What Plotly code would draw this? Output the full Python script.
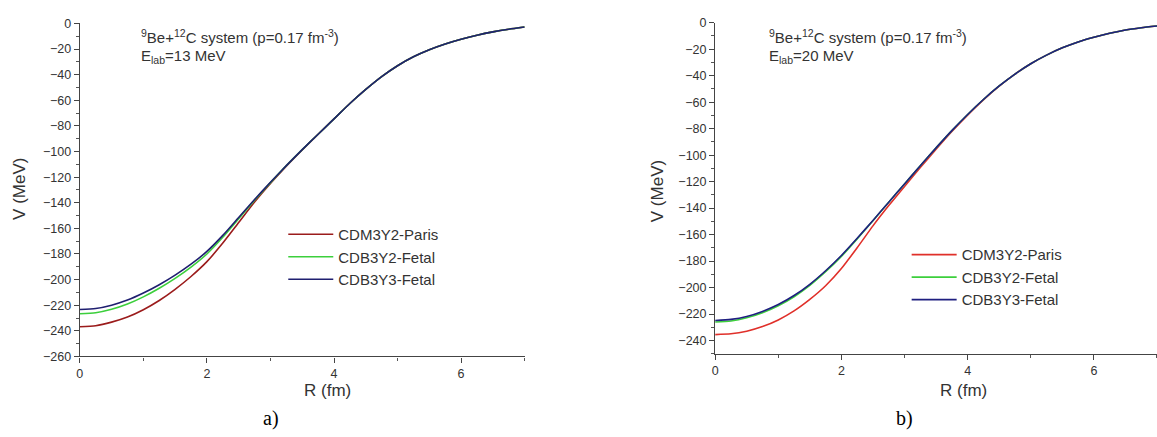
import plotly.graph_objects as go

W, H = 1157, 437

# ---- data ----
R = [0, 0.25, 0.5, 0.75, 1.0, 1.25, 1.5, 1.75, 2.0, 2.25, 2.5, 2.75, 3.0, 3.25, 3.5,
     3.75, 4.0, 4.25, 4.5, 4.75, 5.0, 5.25, 5.5, 5.75, 6.0, 6.25, 6.5, 6.75, 7.0]

# panel a) Elab = 13 MeV
paris_a = [-236.8, -236.0, -233.2, -229.2, -223.5, -216.3, -207.6, -197.6, -186.0, -171.5, -155.5, -139.5, -125.0, -111.5, -98.8,
           -86.5, -74.5, -62.5, -51.5, -41.5, -33.0, -26.0, -20.5, -16.0, -12.3, -9.2, -6.6, -4.5, -2.8]
b3y2_a = [-226.7, -225.9, -223.2, -219.1, -213.5, -206.8, -199.1, -190.3, -180.0, -167.0, -152.5, -138.1, -124.3, -111.0, -98.5,
          -86.5, -74.5, -62.5, -51.5, -41.5, -33.0, -26.0, -20.5, -16.0, -12.3, -9.2, -6.6, -4.5, -2.8]
b3y3_a = [-223.4, -222.6, -220.0, -216.0, -210.5, -204.0, -196.5, -188.0, -178.0, -165.5, -151.5, -137.5, -124.0, -111.0, -98.5,
          -86.5, -74.5, -62.5, -51.5, -41.5, -33.0, -26.0, -20.5, -16.0, -12.3, -9.2, -6.6, -4.5, -2.8]

# panel b) Elab = 20 MeV
paris_b = [-235.5, -234.9, -232.9, -229.4, -224.4, -217.6, -208.9, -198.6, -185.6, -169.9, -153.4, -138.1, -123.6, -109.4, -95.6,
           -82.2, -69.8, -58.3, -47.9, -38.8, -31.0, -24.5, -19.0, -14.5, -11.0, -8.0, -5.5, -3.8, -2.5]
b3y2_b = [-226.0, -225.2, -222.8, -219.0, -213.7, -206.9, -198.3, -188.0, -176.4, -163.2, -149.5, -135.5, -121.8, -108.0, -94.5,
          -81.5, -69.3, -58.0, -47.8, -38.8, -31.0, -24.5, -19.0, -14.5, -11.0, -8.0, -5.5, -3.8, -2.5]
b3y3_b = [-224.8, -224.0, -221.8, -218.0, -212.8, -206.0, -197.5, -187.3, -175.8, -162.8, -149.3, -135.5, -121.8, -108.0, -94.5,
          -81.5, -69.3, -58.0, -47.8, -38.8, -31.0, -24.5, -19.0, -14.5, -11.0, -8.0, -5.5, -3.8, -2.5]

names = ["CDM3Y2-Paris", "CDB3Y2-Fetal", "CDB3Y3-Fetal"]
x_ticks = [0, 2, 4, 6]
y_ticks_a = list(range(0, -261, -20))
y_ticks_b = list(range(0, -241, -20))

colors_a = ["#9b1c1c", "#3ccf3c", "#1f1f70"]
colors_b = ["#e0302a", "#3ccf3c", "#1f1f80"]

SANS = "Liberation Sans, Arial, sans-serif"

fig = go.Figure()
for ys, c, n in zip([paris_a, b3y2_a, b3y3_a], colors_a, names):
    fig.add_trace(go.Scatter(x=R, y=ys, mode="lines", name=n,
                             line=dict(color=c, width=1.6, shape="spline", smoothing=0.6),
                             xaxis="x", yaxis="y", legend="legend"))
for ys, c, n in zip([paris_b, b3y2_b, b3y3_b], colors_b, names):
    fig.add_trace(go.Scatter(x=R, y=ys, mode="lines", name=n,
                             line=dict(color=c, width=1.6, shape="spline", smoothing=0.6),
                             xaxis="x2", yaxis="y2", legend="legend2"))

def px_x(p):
    return p / W

def px_y(p):
    return 1 - p / H

axis_common = dict(
    showgrid=False, zeroline=False, showline=True, linecolor="#444", linewidth=1.3,
    ticks="outside", ticklen=5, tickwidth=1.2, tickcolor="#444",
    tickfont=dict(family=SANS, size=12.5, color="#333"),
    minor=dict(ticks="outside", ticklen=3, tickwidth=1, tickcolor="#555"),
)

fig.update_layout(
    width=W, height=H, margin=dict(l=0, r=0, t=0, b=0),
    paper_bgcolor="white", plot_bgcolor="white",
    xaxis=dict(domain=[px_x(77), px_x(523)], range=[0, 7], tickvals=x_ticks, anchor="y",
               minor_dtick=1, **axis_common),
    yaxis=dict(domain=[px_y(361), px_y(17)], range=[-260, 0], tickvals=y_ticks_a, anchor="x",
               minor_dtick=10, **axis_common),
    xaxis2=dict(domain=[px_x(714), 1.0], range=[0, 7], tickvals=x_ticks, anchor="y2",
                minor_dtick=1, **axis_common),
    yaxis2=dict(domain=[px_y(358.3), px_y(16.2)], range=[-250, 0], tickvals=y_ticks_b, anchor="x2",
                minor_dtick=10, **axis_common),
    legend=dict(x=px_x(281), y=px_y(218), xanchor="left", yanchor="top", bgcolor="rgba(0,0,0,0)",
                font=dict(family=SANS, size=15, color="#333"), itemwidth=45, tracegroupgap=0),
    legend2=dict(x=px_x(906), y=px_y(239), xanchor="left", yanchor="top", bgcolor="rgba(0,0,0,0)",
                 font=dict(family=SANS, size=15, color="#333"), itemwidth=45, tracegroupgap=0),
    showlegend=True,
)

ann = []
def add_text(text, x, y, size, xanchor="left", angle=0, family=SANS, color="#333"):
    ann.append(dict(text=text, x=px_x(x), y=px_y(y), xref="paper", yref="paper", xanchor=xanchor,
                    yanchor="middle", showarrow=False, textangle=angle,
                    font=dict(family=family, size=size, color=color)))

add_text("<sup>9</sup>Be+<sup>12</sup>C system (p=0.17 fm<sup>-3</sup>)", 136, 30, 15)
add_text("E<sub>lab</sub>=13 MeV", 136, 51, 15)
add_text("<sup>9</sup>Be+<sup>12</sup>C system (p=0.17 fm<sup>-3</sup>)", 766, 30, 15)
add_text("E<sub>lab</sub>=20 MeV", 766, 51, 15)
add_text("V (MeV)", 17, 188, 17, xanchor="center", angle=-90)
add_text("V (MeV)", 657, 190, 17, xanchor="center", angle=-90)
add_text("R (fm)", 325, 396, 17, xanchor="center")
add_text("R (fm)", 963, 396, 17, xanchor="center")
add_text("a)", 269, 425, 20, xanchor="center", family="Liberation Serif, Times New Roman, serif", color="#000")
add_text("b)", 904, 425, 20, xanchor="center", family="Liberation Serif, Times New Roman, serif", color="#000")
fig.update_layout(annotations=ann)

fig.write_html("out.html")
